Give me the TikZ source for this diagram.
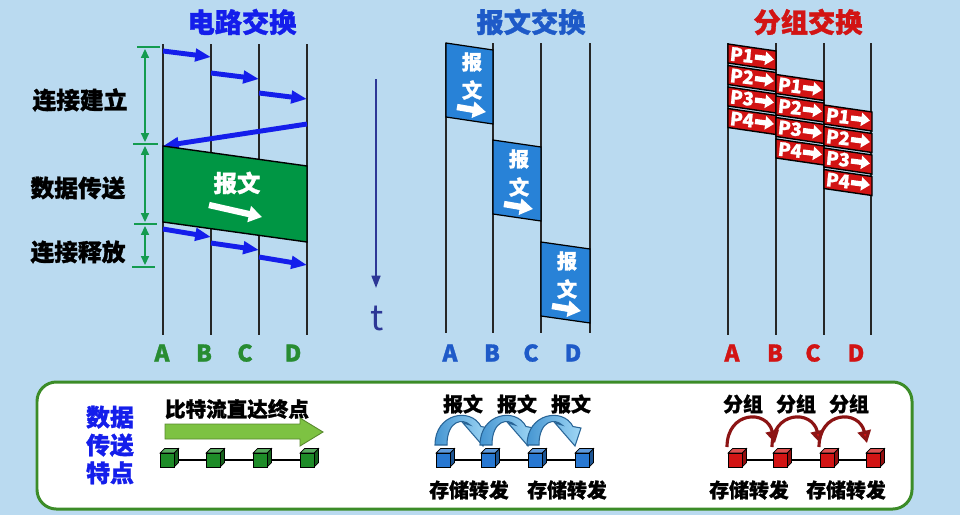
\documentclass[tikz,border=0pt]{standalone}
\usepackage{fontspec}
\setmainfont{Noto Sans CJK SC}[BoldFeatures={FakeBold=1.2}]
\usetikzlibrary{arrows.meta}

\definecolor{bgblue}{RGB}{186,218,240}
\definecolor{circblue}{RGB}{20,30,235}
\definecolor{circgreen}{RGB}{0,150,68}
\definecolor{labgreen}{RGB}{40,140,50}
\definecolor{dimgreen}{RGB}{20,155,80}
\definecolor{msgtitle}{RGB}{30,90,200}
\definecolor{msgfill}{RGB}{40,130,215}
\definecolor{pktred}{RGB}{210,20,20}
\definecolor{timeblue}{RGB}{45,55,150}
\definecolor{boxgreen}{RGB}{60,140,40}
\definecolor{bitgreen}{RGB}{125,194,66}
\definecolor{cubegreen}{RGB}{30,140,40}
\definecolor{cubeblue}{RGB}{40,120,210}
\definecolor{arclight}{RGB}{160,215,245}
\definecolor{arcdark}{RGB}{70,150,210}
\definecolor{arcline}{RGB}{40,100,150}
\definecolor{arcred}{RGB}{140,20,20}

\begin{document}
\begin{tikzpicture}[x=0.02cm, y=-0.02cm,
    lane/.style={line width=1.1pt, black!85},
    title/.style={font=\fontsize{15.5}{18}\selectfont\bfseries},
    phase/.style={font=\fontsize{13.5}{16}\selectfont\bfseries, black},
    hostlab/.style={font=\fontsize{13}{15}\selectfont\bfseries},
    sig/.style={circblue, line width=2.8pt, -{Triangle[length=9pt,width=7pt]}},
    dim/.style={dimgreen, line width=0.9pt, {Triangle[length=5pt,width=4.5pt]}-{Triangle[length=5pt,width=4.5pt]}},
    tick/.style={dimgreen, line width=0.9pt},
    whitearrow/.style={white, line width=3.6pt, -{Triangle[length=7.5pt,width=9pt]}},
    boxtext/.style={white, font=\fontsize{11.5}{13}\selectfont\bfseries},
    msgbox/.style={fill=msgfill, draw=black, line width=0.7pt},
    pkt/.style={fill=pktred, draw=black, line width=0.8pt},
    pkttext/.style={white, inner sep=0pt, font=\fontsize{10.5}{12}\selectfont\bfseries},
    pktarrow/.style={white, line width=3pt, -{Triangle[length=5pt,width=7.5pt]}},
    note/.style={black, font=\fontsize{11.3}{13}\selectfont\bfseries},
    msgarc/.style={left color=arcdark, right color=arclight, draw=arcline, line width=0.6pt},
    redarc/.style={arcred, line width=1.8pt, -{Triangle[length=7pt,width=7.5pt,fill=pktred]}}
  ]
  \useasboundingbox (0,0) rectangle (960,515);
  \fill[bgblue] (0,0) rectangle (960,515);

  % --- titles ---
  \node[title, circblue] (ctitle) at (242,22) {电路交换};
  \node[title, msgtitle] (mtitle) at (531,22) {报文交换};
  \node[title, pktred] (ptitle) at (808,22) {分组交换};

  % --- lanes ---
  \foreach \lx in {163,211,259,307} \draw[lane] (\lx,44) -- (\lx,335);
  \foreach \lx in {446,493,541,590} \draw[lane] (\lx,43) -- (\lx,333);
  \foreach \lx in {728,776,824,871} \draw[lane] (\lx,43) -- (\lx,335);

  % --- circuit switching ---
  \draw[sig] (163,51) -- (211,57);
  \draw[sig] (211,73) -- (259,79);
  \draw[sig] (259,93) -- (307,99);
  \draw[sig] (307,124) -- (163,146);
  \draw[fill=circgreen, draw=black, line width=0.8pt] (163,146) -- (307,166) -- (307,242) -- (163,222) -- cycle;
  \node[white, font=\fontsize{13.3}{15}\selectfont\bfseries] (cmsg) at (237,183) {报文};
  \draw[whitearrow] (209,205) -- (262,217);
  \draw[sig] (163,229) -- (211,237);
  \draw[sig] (211,243) -- (259,250);
  \draw[sig] (259,257) -- (307,265);

  % phases
  \draw[tick] (137,47) -- (160,47);
  \draw[tick] (133,144) -- (158,144);
  \draw[tick] (134,224) -- (157,224);
  \draw[tick] (132,267) -- (155,267);
  \draw[dim] (145,49) -- (145,142);
  \draw[dim] (145,146) -- (145,222);
  \draw[dim] (145,226) -- (145,265);
  \node[phase] (setup) at (80,100) {连接建立};
  \node[phase] (xfer) at (78,188) {数据传送};
  \node[phase] (release) at (78,252) {连接释放};

  \foreach \hx/\hn in {162/A,204/B,245/C,293/D}
    \node[hostlab, labgreen] (c\hn) at (\hx,353) {\hn};

  % --- time axis ---
  \draw[timeblue, line width=1.2pt, -{Triangle[length=7pt,width=5pt]}] (376,79) -- (376,288);
  \node[timeblue, font=\fontsize{20}{22}\selectfont] (time) at (377,318) {t};

  % --- message switching ---
  \foreach \i/\lx/\ty/\w in {1/446/43/47, 2/493/140/48, 3/541/242/49} {
    \draw[msgbox] (\lx,\ty) -- ++(\w,7) -- ++(0,74) -- ++(-\w,-7) -- cycle;
    \node[boxtext] (m\i a) at (\lx+26,\ty+19) {报};
    \node[boxtext] (m\i b) at (\lx+26,\ty+47) {文};
    \draw[whitearrow] (\lx+11,\ty+64) -- (\lx+40,\ty+69);
  }
  \foreach \hx/\hn in {450/A,492/B,531/C,573/D}
    \node[hostlab, msgtitle] (m\hn) at (\hx,353) {\hn};

  % --- packet switching ---
  \foreach \col/\lx/\ys in {0/728/44, 1/776/74.5, 2/824/105} {
    \foreach \j in {1,...,4} {
      \pgfmathsetmacro\py{\ys+21.5*(\j-1)}
      \draw[pkt] (\lx,\py) -- ++(48,7) -- ++(0,19) -- ++(-48,-7) -- cycle;
      \node[pkttext, rotate=-6] (p\col\j) at (\lx+14,\py+11) {P\j};
      \draw[pktarrow] (\lx+27,\py+13) -- (\lx+46,\py+15.5);
    }
  }
  \foreach \hx/\hn in {732/A,775/B,813/C,856/D}
    \node[hostlab, pktred] (p\hn) at (\hx,353) {\hn};

  % --- bottom panel ---
  \draw[boxgreen, fill=white, line width=1.7pt, rounded corners=11pt] (37,382) rectangle (912,509);
  \node[circblue, align=center, font=\fontsize{13.6}{15.9}\selectfont\bfseries] (feat) at (110,445) {数据\\传送\\特点};

  % bit stream
  \node[note, font=\fontsize{11.7}{13}\selectfont\bfseries] (bits) at (237,409) {比特流直达终点};
  \draw[fill=bitgreen, draw=bitgreen!70!black, line width=0.5pt] (165,424) -- (300,424) -- (300,418) -- (323,432) -- (300,446) -- (300,439) -- (165,439) -- cycle;

  % node chains
  \draw[line width=0.8pt] (167,460) -- (307,460);
  \draw[line width=0.8pt] (443,460) -- (582,460);
  \draw[line width=0.8pt] (735,460) -- (873,460);
  \foreach \cx/\cc in {167/cubegreen,213/cubegreen,260/cubegreen,307/cubegreen,
                       443/cubeblue,488/cubeblue,535/cubeblue,582/cubeblue,
                       735/pktred,780/pktred,827/pktred,873/pktred} {
    \draw[fill=\cc!70!black, line width=0.4pt] (\cx+7,453) -- ++(4.5,-4.5) -- ++(0,14) -- ++(-4.5,4.5) -- cycle;
    \draw[fill=\cc!75!white, line width=0.4pt] (\cx-7,453) -- ++(4.5,-4.5) -- ++(14,0) -- ++(-4.5,4.5) -- cycle;
    \draw[fill=\cc, line width=0.4pt] (\cx-7,453) rectangle (\cx+7,467);
  }

  % store and forward
  \foreach \i/\nx in {1/463,2/517,3/571} \node[note] (mw\i) at (\nx,404) {报文};
  \foreach \cx in {443,488,535} {
    \begin{scope}[shift={(\cx,0)}]
      \draw[msgarc] (-8,445) .. controls (-8,413) and (28,407) .. (38,426.5) -- (46,428) -- (40,446) -- (20,423) -- (27,425) .. controls (20,418) and (4,420) .. (4,445) -- cycle;
    \end{scope}
  }
  \node[note] (sf1) at (469,490) {存储转发};
  \node[note] (sf2) at (567,490) {存储转发};

  \foreach \i/\nx in {1/743,2/796,3/849} \node[note] (pw\i) at (\nx,404) {分组};
  \foreach \cx in {735,780,827}
    \draw[redarc] (\cx-8,447) .. controls (\cx-8,411) and (\cx+32,409) .. (\cx+40,443);
  \node[note] (sf3) at (749,490) {存储转发};
  \node[note] (sf4) at (846,490) {存储转发};
\end{tikzpicture}
\end{document}
